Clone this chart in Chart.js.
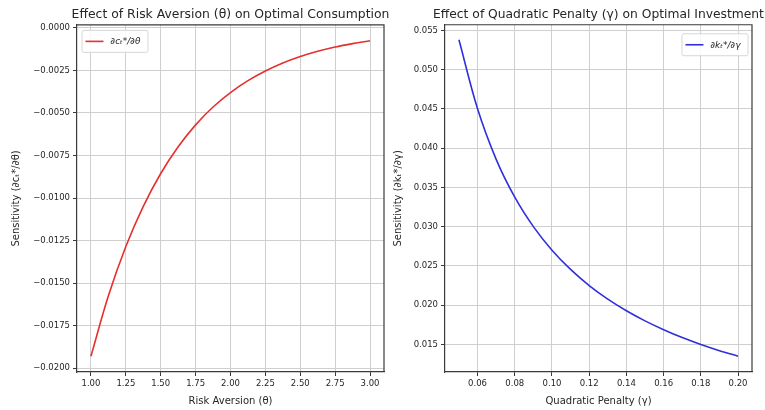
<!DOCTYPE html>
<html>
<head>
<meta charset="utf-8">
<script src="https://cdn.jsdelivr.net/npm/chart.js@4.4.1/dist/chart.umd.min.js"></script>
<style>
  html, body { margin: 0; padding: 0; background: #fff; overflow: hidden; width: 765px; height: 410px; }
  .panel { position: absolute; top: 0; height: 410px; }
  #leftPanel { left: 0; width: 461px; }
  #rightPanel { left: 385px; width: 427px; }
</style>
</head>
<body>
<div class="panel" id="leftPanel"><canvas id="consumptionChart"></canvas></div>
<div class="panel" id="rightPanel"><canvas id="investmentChart"></canvas></div>
<script>
const thetaValues = [1.0, 1.125, 1.25, 1.375, 1.5, 1.625, 1.75, 1.875, 2.0, 2.125, 2.25, 2.375, 2.5, 2.625, 2.75, 2.875, 3.0];
const consumptionSensitivity = [-0.0193, -0.01575, -0.01285, -0.01049, -0.00856, -0.00699, -0.0057, -0.00465, -0.0038, -0.0031, -0.00253, -0.00206, -0.00168, -0.00137, -0.00112, -0.00092, -0.00075];

const gammaValues = [0.05, 0.06, 0.07, 0.08, 0.09, 0.10, 0.11, 0.12, 0.13, 0.14, 0.15, 0.16, 0.17, 0.18, 0.19, 0.20];
const investmentSensitivity = [0.0538, 0.0450, 0.03857, 0.03375, 0.0300, 0.0270, 0.02455, 0.0225, 0.02077, 0.01929, 0.0180, 0.01688, 0.01588, 0.0150, 0.01421, 0.0135];

const thetaTicks = [1.0, 1.25, 1.5, 1.75, 2.0, 2.25, 2.5, 2.75, 3.0];
const consumptionTicks = [-0.02, -0.0175, -0.015, -0.0125, -0.01, -0.0075, -0.005, -0.0025, 0];
const gammaTicks = [0.06, 0.08, 0.10, 0.12, 0.14, 0.16, 0.18, 0.20];
const investmentTicks = [0.015, 0.020, 0.025, 0.030, 0.035, 0.040, 0.045, 0.050, 0.055];

const FONT = "'DejaVu Sans', sans-serif";
const TEXT = "#262626";
const GRID = "#cfcfcf";
const SPINE = "#3a3a3a";

function fmt(v, digits) {
  const s = Math.abs(v).toFixed(digits);
  return v < -1e-12 ? "\u2212" + s : s;
}

// top + right spines (matplotlib box)
const framePlugin = {
  id: "frame",
  beforeDatasetsDraw(chart) {
    const { ctx, chartArea: a } = chart;
    ctx.save();
    ctx.strokeStyle = SPINE;
    ctx.lineWidth = 1.2;
    ctx.beginPath();
    ctx.moveTo(a.left, a.top);
    ctx.lineTo(a.right, a.top);
    ctx.lineTo(a.right, a.bottom);
    ctx.stroke();
    ctx.restore();
  }
};

// legend box drawn inside the axes
const boxLegendPlugin = {
  id: "boxLegend",
  afterDatasetsDraw(chart, args, opts) {
    const { ctx, chartArea: a } = chart;
    const ds = chart.data.datasets[0];
    ctx.save();
    ctx.font = "italic 9px " + FONT;
    const tw = ctx.measureText(ds.label).width;
    const w = 30 + tw + 6;
    const h = 22;
    const x = opts.side === "left" ? a.left + 4.5 : a.right - 4.5 - w;
    const y = a.top + opts.offsetY;
    ctx.fillStyle = "rgba(255,255,255,0.85)";
    ctx.strokeStyle = "#d6d6d6";
    ctx.lineWidth = 1;
    ctx.beginPath();
    ctx.roundRect(x + 0.5, y + 0.5, w, h, 2);
    ctx.fill();
    ctx.stroke();
    ctx.strokeStyle = ds.borderColor;
    ctx.lineWidth = 1.6;
    ctx.beginPath();
    ctx.moveTo(x + 4, y + h / 2 + 0.5);
    ctx.lineTo(x + 22, y + h / 2 + 0.5);
    ctx.stroke();
    ctx.fillStyle = TEXT;
    ctx.textBaseline = "middle";
    ctx.fillText(ds.label, x + 29, y + h / 2 + 1);
    ctx.restore();
  }
};

function buildChart(canvasId, cfg) {
  const points = cfg.xs.map((x, i) => ({ x, y: cfg.ys[i] }));
  return new Chart(document.getElementById(canvasId).getContext("2d"), {
    type: "line",
    data: {
      datasets: [{
        label: cfg.legend,
        data: points,
        borderColor: cfg.color,
        borderWidth: 1.6,
        pointRadius: 0,
        tension: 0.35,
        fill: false
      }]
    },
    options: {
      responsive: true,
      maintainAspectRatio: false,
      animation: false,
      events: [],
      layout: { padding: 0 },
      plugins: {
        legend: { display: false },
        tooltip: { enabled: false },
        title: {
          display: true,
          text: cfg.title,
          color: TEXT,
          font: { family: FONT, size: cfg.titleSize, weight: "normal" },
          padding: { top: 7, bottom: 3 }
        },
        boxLegend: { side: cfg.legendSide, offsetY: cfg.legendOffset }
      },
      scales: {
        x: {
          type: "linear",
          min: cfg.xMin,
          max: cfg.xMax,
          afterBuildTicks: (s) => { s.ticks = cfg.xTicks.map((value) => ({ value })); },
          afterFit: (s) => { s.height = 38; },
          ticks: {
            color: TEXT,
            font: { family: FONT, size: 8.5 },
            padding: 3,
            maxRotation: 0,
            callback: (v) => fmt(v, 2)
          },
          grid: { color: GRID, lineWidth: 1, tickColor: SPINE, tickLength: 4 },
          border: { color: SPINE, width: 1.2 },
          title: {
            display: true,
            text: cfg.xTitle,
            color: TEXT,
            font: { family: FONT, size: 10 },
            padding: { top: 0, bottom: 3 }
          }
        },
        y: {
          type: "linear",
          min: cfg.yMin,
          max: cfg.yMax,
          afterBuildTicks: (s) => { s.ticks = cfg.yTicks.map((value) => ({ value })); },
          afterFit: (s) => { s.width = cfg.axisWidth; },
          ticks: {
            color: TEXT,
            font: { family: FONT, size: 8.5 },
            padding: 3,
            callback: (v) => fmt(v, cfg.yDigits)
          },
          grid: { color: GRID, lineWidth: 1, tickColor: SPINE, tickLength: 4 },
          border: { color: SPINE, width: 1.2 },
          title: {
            display: true,
            text: cfg.yTitle,
            color: TEXT,
            font: { family: FONT, size: 10 },
            padding: { top: cfg.yTitlePad, bottom: 0 }
          }
        },
        spacer: {
          type: "linear",
          position: "right",
          display: true,
          afterFit: (s) => { s.width = cfg.axisWidth; },
          ticks: { display: false },
          grid: { display: false, drawTicks: false },
          border: { display: false }
        }
      }
    },
    plugins: [framePlugin, boxLegendPlugin]
  });
}

buildChart("consumptionChart", {
  xs: thetaValues,
  ys: consumptionSensitivity,
  color: "rgb(229,48,46)",
  legend: "\u2202c\u209C*/\u2202\u03B8",
  legendSide: "left",
  legendOffset: 5,
  title: "Effect of Risk Aversion (\u03B8) on Optimal Consumption",
  titleSize: 12.4,
  xTitle: "Risk Aversion (\u03B8)",
  yTitle: "Sensitivity (\u2202c\u209C*/\u2202\u03B8)",
  xMin: 0.9, xMax: 3.1, xTicks: thetaTicks,
  yMin: -0.02023, yMax: 0.00018, yTicks: consumptionTicks, yDigits: 4,
  axisWidth: 77,
  yTitlePad: 10.5
});

buildChart("investmentChart", {
  xs: gammaValues,
  ys: investmentSensitivity,
  color: "rgb(48,48,218)",
  legend: "\u2202k\u209C*/\u2202\u03B3",
  legendSide: "right",
  legendOffset: 8.5,
  title: "Effect of Quadratic Penalty (\u03B3) on Optimal Investment",
  titleSize: 12.3,
  xTitle: "Quadratic Penalty (\u03B3)",
  yTitle: "Sensitivity (\u2202k\u209C*/\u2202\u03B3)",
  xMin: 0.0425, xMax: 0.2075, xTicks: gammaTicks,
  yMin: 0.01149, yMax: 0.05571, yTicks: investmentTicks, yDigits: 3,
  axisWidth: 60,
  yTitlePad: 7
});
</script>
</body>
</html>
